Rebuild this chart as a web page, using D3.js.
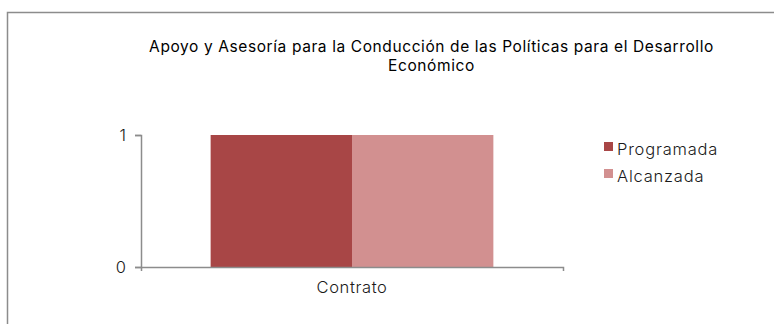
<!DOCTYPE html>
<html>
<head>
<meta charset="utf-8">
<script src="https://cdn.jsdelivr.net/npm/d3@7"></script>
<style>
  html, body { margin: 0; padding: 0; background: #fff; }
  svg { display: block; font-family: "Inter", "Noto Sans", sans-serif; }
</style>
</head>
<body>
<svg id="chart" width="774" height="324"></svg>
<script>
// Chart data
const titleLines = ["Apoyo y Asesoría para la Conducción de las Políticas para el Desarrollo", "Económico"];
const categories = ["Contrato"];
const seriesNames = ["Programada", "Alcanzada"];
const programada = [1];
const alcanzada = [1];
const yTicks = [0, 1];
const colors = ["#A84646", "#D29090"];

const FONT = "Inter, 'Noto Sans', sans-serif";
const svg = d3.select("#chart");

// outer frame of the chart area
svg.append("path")
  .attr("d", "M7.5,330 V12.5 H780")
  .attr("fill", "none")
  .attr("stroke", "#8c8c8c")
  .attr("stroke-width", 1.5);

// title, two centred lines
const title = svg.append("text")
  .attr("text-anchor", "middle")
  .attr("font-size", 15.5)
  .attr("fill", "#000")
  .attr("letter-spacing", 0.6);
titleLines.forEach((t, i) => {
  title.append("tspan").attr("x", 431.5).attr("y", 51.5 + i * 19).text(t);
});

const plot = { left: 141, right: 563, top: 135, bottom: 267 };

// category band; the bar group fills 67% of it
const catScale = d3.scaleBand().domain(categories).range([plot.left, plot.right]);
const groupWidth = catScale.bandwidth() * 0.67;
const x1 = d3.scaleBand().domain(seriesNames).range([0, groupWidth]);

const y = d3.scaleLinear().domain([0, 1]).range([plot.bottom, plot.top]);

const rows = categories.map((c, i) => ({ cat: c, values: [programada[i], alcanzada[i]] }));

const groups = svg.append("g").selectAll("g").data(rows).join("g")
  .attr("transform", d => `translate(${catScale(d.cat) + (catScale.bandwidth() - groupWidth) / 2},0)`);

groups.selectAll("rect").data(d => d.values.map((v, j) => ({ key: seriesNames[j], v, j })))
  .join("rect")
  .attr("x", d => x1(d.key))
  .attr("width", x1.bandwidth())
  .attr("y", d => y(d.v))
  .attr("height", d => y(0) - y(d.v))
  .attr("fill", d => colors[d.j]);

// y axis
const yAxis = svg.append("g")
  .attr("transform", `translate(${plot.left},0)`)
  .call(d3.axisLeft(y).tickValues(yTicks).tickFormat(d3.format("d")).tickSize(6).tickPadding(9));
yAxis.attr("font-family", FONT);
yAxis.select(".domain").attr("stroke", "#8c8c8c").attr("stroke-width", 1.5);
yAxis.selectAll(".tick line").attr("stroke", "#8c8c8c").attr("stroke-width", 1.5);
yAxis.selectAll(".tick text").attr("font-size", 16.5).attr("font-weight", 300).attr("fill", "#1a1a1a");

// x axis
const xAxis = svg.append("g")
  .attr("transform", `translate(0,${plot.bottom})`)
  .call(d3.axisBottom(catScale).tickSize(0).tickPadding(14).tickSizeOuter(4));
xAxis.attr("font-family", FONT);
xAxis.select(".domain").attr("stroke", "#8c8c8c").attr("stroke-width", 1.5);
xAxis.selectAll(".tick text").attr("font-size", 16.5).attr("font-weight", 300)
  .attr("letter-spacing", 0.6).attr("fill", "#1a1a1a");

// legend
const legend = svg.append("g").attr("transform", "translate(604,142)");
seriesNames.forEach((name, i) => {
  const g = legend.append("g").attr("transform", `translate(0,${i * 27})`);
  g.append("rect").attr("width", 9).attr("height", 9).attr("fill", colors[i]);
  g.append("text").attr("x", 13).attr("y", 13).attr("font-size", 16.5).attr("font-weight", 300)
    .attr("letter-spacing", 0.8).attr("fill", "#1a1a1a").text(name);
});
</script>
</body>
</html>
